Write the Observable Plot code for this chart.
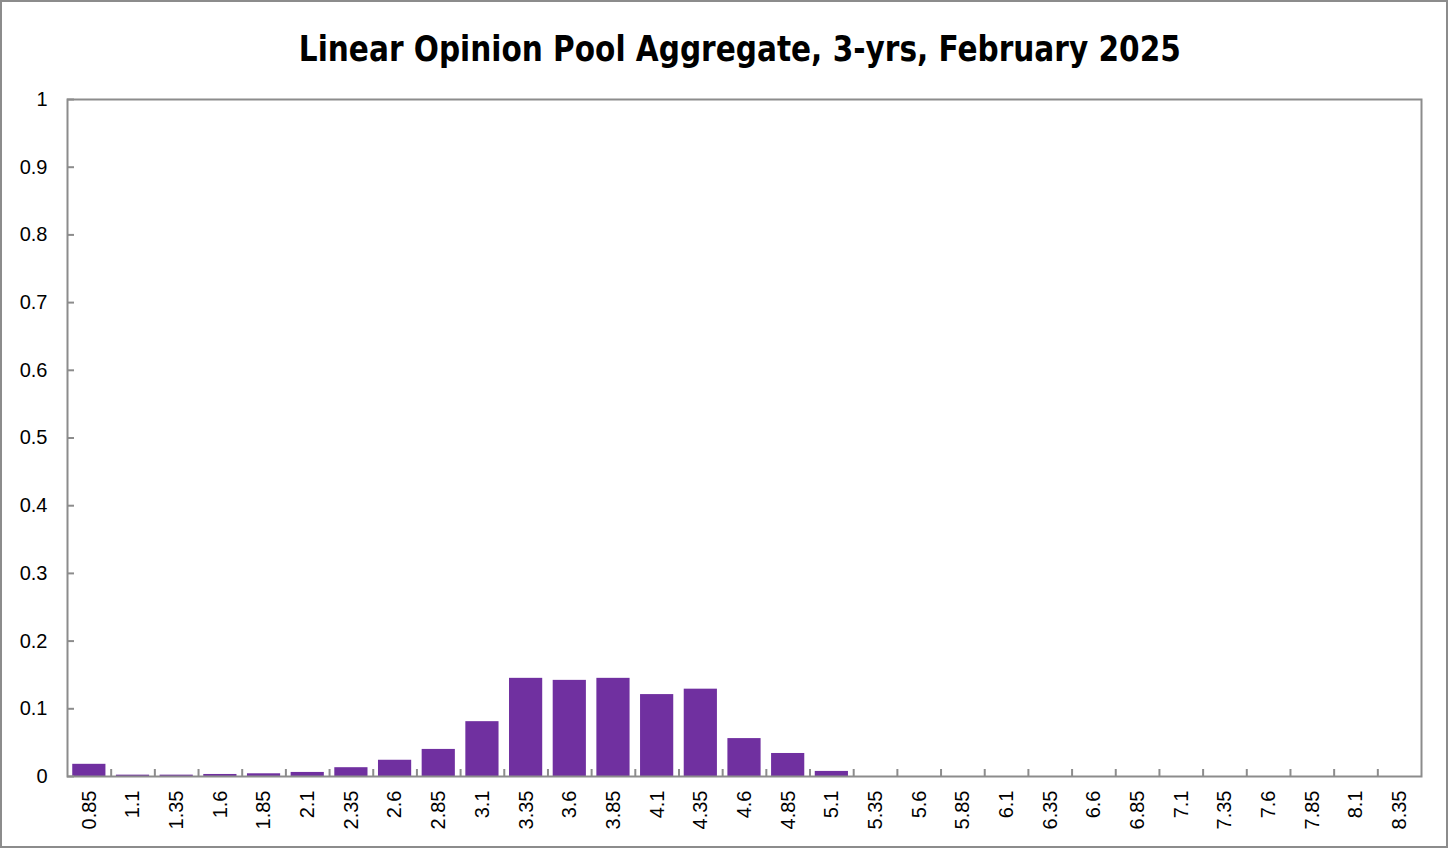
<!DOCTYPE html>
<html>
<head>
<meta charset="utf-8">
<script src="https://cdn.jsdelivr.net/npm/d3@7"></script>
<script src="https://cdn.jsdelivr.net/npm/@observablehq/plot@0.6"></script>
<style>
  html, body { margin: 0; padding: 0; background: #fff; }
  #wrap { position: relative; width: 1448px; height: 848px; overflow: hidden; }
  #border { position: absolute; left: 0; top: 0; width: 1448px; height: 848px; box-sizing: border-box; border: 2px solid #8c8c8c; pointer-events: none; }
  #title { position: absolute; top: 31px; left: 0; width: 1480px; text-align: center; white-space: nowrap;
           font-family: "Liberation Sans Narrow", "DejaVu Sans Condensed", Roboto, sans-serif; font-weight: bold; font-size: 36px; color: #000; line-height: 1; }
  #title span { display: inline-block; transform-origin: center; }
  #chart svg text { font-family: "Liberation Sans", Arial, sans-serif; font-size: 20px; }
</style>
</head>
<body>
<div id="wrap">
  <div id="chart"></div>
  <div id="title"><span>Linear Opinion Pool Aggregate, 3-yrs, February 2025</span></div>
  <div id="border"></div>
</div>
<script>
const categories = ["0.85","1.1","1.35","1.6","1.85","2.1","2.35","2.6","2.85","3.1","3.35","3.6","3.85","4.1","4.35","4.6","4.85","5.1","5.35","5.6","5.85","6.1","6.35","6.6","6.85","7.1","7.35","7.6","7.85","8.1","8.35"];
const values = [0.018,0.002,0.002,0.003,0.004,0.006,0.013,0.024,0.040,0.081,0.145,0.142,0.145,0.121,0.129,0.056,0.034,0.0075,0,0,0,0,0,0,0,0,0,0,0,0,0];
const yTicks = [0,0.1,0.2,0.3,0.4,0.5,0.6,0.7,0.8,0.9,1];

const data = categories.map((c, i) => ({i, c, v: values[i]}));
const n = categories.length;
const centers = d3.range(n).map(i => i + 0.5);
const bounds = d3.range(1, n);

const chart = Plot.plot({
  width: 1448,
  height: 848,
  marginLeft: 67,
  marginRight: 27,
  marginTop: 99,
  marginBottom: 72,
  style: {fontFamily: "'Liberation Sans', Arial, sans-serif", fontSize: "20px", color: "#000", background: "transparent"},
  x: {type: "linear", domain: [0, n], axis: null},
  y: {domain: [0, 1], axis: null},
  marks: [
    Plot.rectY(data, {x1: d => d.i + 0.12, x2: d => d.i + 0.88, y1: 0, y2: "v", fill: "#7030A0"}),
    Plot.axisX({ticks: bounds, tickSize: -7, tickFormat: () => "", label: null, stroke: "#8c8c8c", strokeWidth: 2}),
    Plot.axisY({ticks: yTicks, tickSize: -7, tickFormat: () => "", label: null, stroke: "#8c8c8c", strokeWidth: 2}),
    Plot.frame({stroke: "#8c8c8c", strokeWidth: 2}),
    Plot.axisX({ticks: centers, tickFormat: t => categories[Math.floor(t)], label: null, tickSize: 0, tickPadding: 14, tickRotate: -90, fontSize: 20, fill: "#000"}),
    Plot.axisY({ticks: yTicks, tickFormat: d => String(Math.round(d * 10) / 10), label: null, tickSize: 0, tickPadding: 20, fontSize: 20, fill: "#000"})
  ]
});
document.getElementById("chart").appendChild(chart);

const span = document.querySelector("#title span");
const w = span.getBoundingClientRect().width;
span.style.transform = `scaleX(${882 / w})`;
</script>
</body>
</html>
